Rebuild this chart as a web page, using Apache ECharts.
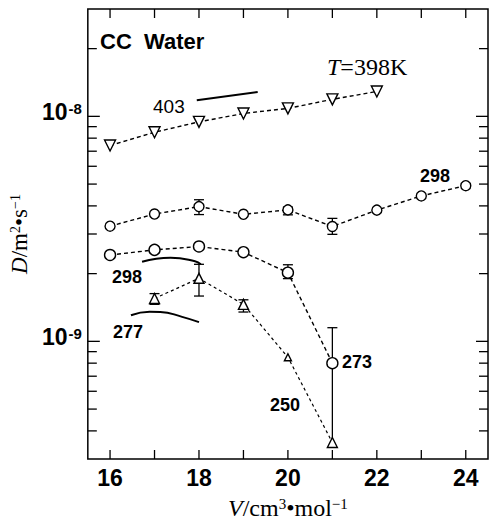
<!DOCTYPE html>
<html><head><meta charset="utf-8">
<script src="https://cdn.jsdelivr.net/npm/echarts@6/dist/echarts.min.js"></script>
<style>html,body{margin:0;padding:0;background:#fff}#c{width:491px;height:525px}</style>
</head><body><div id="c"></div>
<script>
// ---- data ----
const xTickValues = [16,17,18,19,20,21,22,23,24];
const yTickValues = [4e-10,5e-10,6e-10,7e-10,8e-10,9e-10,1e-9,2e-9,3e-9,4e-9,5e-9,6e-9,7e-9,8e-9,9e-9,1e-8,2e-8];
const yMajorTicks = [1e-9, 1e-8];

const x398 = [16,17,18,19,20,21,22];
const d398 = [7.42e-9, 8.5e-9, 9.45e-9, 1.03e-8, 1.085e-8, 1.19e-8, 1.29e-8];

const x298 = [16,17,18,19,20,21,22,23,24];
const d298 = [3.25e-9, 3.68e-9, 3.97e-9, 3.67e-9, 3.84e-9, 3.24e-9, 3.83e-9, 4.43e-9, 4.92e-9];

const x273 = [16,17,18,19,20,21];
const d273 = [2.42e-9, 2.55e-9, 2.64e-9, 2.49e-9, 2.02e-9, 8.0e-10];

const x250 = [17,18,19,20,21];
const d250 = [1.55e-9, 1.906e-9, 1.46e-9, 8.5e-10, 3.55e-10];

// error bars: [x, low, high, lowerCap(1/0)]
const err298 = [[18, 3.66e-9, 4.26e-9, 1], [20, 3.65e-9, 3.95e-9, 1], [21, 2.99e-9, 3.52e-9, 1]];
const err273 = [[20, 1.90e-9, 2.19e-9, 1], [21, 3.55e-10, 1.15e-9, 0]];
const err250 = [[17, 1.46e-9, 1.63e-9, 1], [18, 1.59e-9, 2.2e-9, 1], [19, 1.35e-9, 1.53e-9, 1]];

// solid reference curves
const x403c = [17.95, 19.32];
const d403c = [1.18e-8, 1.284e-8];
const x298c = [16.72, 17.36, 17.91, 18.04];
const d298c = [2.26e-9, 2.35e-9, 2.27e-9, 2.20e-9];
const x277c = [16.47, 16.89, 17.13, 17.62, 18.0];
const d277c = [1.307e-9, 1.355e-9, 1.352e-9, 1.285e-9, 1.217e-9];

// ---- chart ----
const pairs = (xs, ys) => xs.map((x, i) => [x, ys[i]]);
const SANS = '"Liberation Sans", Arial, sans-serif';
const SERIF = '"Liberation Serif", "DejaVu Serif", serif';
const isPow10 = v => Math.abs(Math.log10(v) - Math.round(Math.log10(v))) < 1e-6;

const chart = echarts.init(document.getElementById('c'), null, {renderer: 'svg'});

const dashed = {color: '#000', width: 1.4, type: [4, 3]};
const markerStyle = {color: '#fff', borderColor: '#000', borderWidth: 1.4};

function errRender(params, api) {
  const x = api.value(0);
  const p0 = api.coord([x, api.value(1)]);
  const p1 = api.coord([x, api.value(2)]);
  const cap = api.value(3);
  const w = 5;
  const st = {stroke: '#000', lineWidth: 1.3};
  const ch = [
    {type: 'line', shape: {x1: p0[0], y1: p0[1], x2: p1[0], y2: p1[1]}, style: st},
    {type: 'line', shape: {x1: p1[0] - w, y1: p1[1], x2: p1[0] + w, y2: p1[1]}, style: st}
  ];
  if (cap) ch.push({type: 'line', shape: {x1: p0[0] - w, y1: p0[1], x2: p0[0] + w, y2: p0[1]}, style: st});
  return {type: 'group', children: ch};
}

const option = {
  animation: false,
  backgroundColor: '#fff',
  grid: {left: 83, right: 2, top: 9, bottom: 64, show: true, borderColor: '#000', borderWidth: 1.5, backgroundColor: 'transparent'},
  xAxis: {
    type: 'value', min: 15.5, max: 24.5, interval: 0.5,
    axisLine: {show: false}, axisTick: {show: false}, splitLine: {show: false},
    axisLabel: {
      margin: 7, color: '#000', fontFamily: SANS, fontWeight: 'bold', fontSize: 23,
      formatter: v => (Math.abs(v - Math.round(v)) < 1e-9 && Math.round(v) % 2 === 0) ? String(Math.round(v)) : ''
    },
    name: '{i|V}{n|/cm}{s|3}{n|•mol}{s|−1}', nameLocation: 'middle', nameGap: 37,
    nameTextStyle: {
      rich: {
        i: {fontFamily: SERIF, fontStyle: 'italic', fontSize: 24, color: '#000', lineHeight: 24, verticalAlign: 'bottom'},
        n: {fontFamily: SERIF, fontSize: 24, color: '#000', lineHeight: 24, verticalAlign: 'bottom'},
        s: {fontFamily: SERIF, fontSize: 15, color: '#000', lineHeight: 15, verticalAlign: 'top'}
      }
    }
  },
  yAxis: {
    type: 'log', logBase: 10, min: 3e-10, max: 3e-8,
    axisLine: {show: false}, axisTick: {show: false}, splitLine: {show: false}, minorTick: {show: false},
    axisLabel: {
      margin: 6, padding: [0, 0, 8, 0],
      formatter: v => isPow10(v) ? '{a|10}{b|' + Math.round(Math.log10(v)) + '}' : '',
      rich: {
        a: {fontFamily: SANS, fontWeight: 'bold', fontSize: 23, color: '#000', lineHeight: 23, verticalAlign: 'bottom'},
        b: {fontFamily: SANS, fontWeight: 'bold', fontSize: 15, color: '#000', lineHeight: 15, verticalAlign: 'top', padding: [0, 0, 13, 1]}
      }
    },
    name: '{i|D}{n|/m}{s|2}{n|•s}{s|−1}', nameLocation: 'middle', nameGap: 56, nameRotate: 90,
    nameTextStyle: {
      rich: {
        i: {fontFamily: SERIF, fontStyle: 'italic', fontSize: 23, color: '#000', lineHeight: 23, verticalAlign: 'bottom'},
        n: {fontFamily: SERIF, fontSize: 23, color: '#000', lineHeight: 23, verticalAlign: 'bottom'},
        s: {fontFamily: SERIF, fontSize: 14, color: '#000', lineHeight: 14, verticalAlign: 'top'}
      }
    }
  },
  series: [
    // axis ticks (inward, on all four sides)
    {
      type: 'custom', silent: true, z: 1,
      data: yTickValues.map(v => [16, v]),
      renderItem: (params, api) => {
        const v = api.value(1);
        const y = api.coord([16, v])[1];
        const cs = params.coordSys;
        const len = yMajorTicks.some(m => Math.abs(m - v) / m < 1e-6) ? 12 : 9;
        const st = {stroke: '#000', lineWidth: 1.3};
        return {type: 'group', children: [
          {type: 'line', shape: {x1: cs.x, y1: y, x2: cs.x + len, y2: y}, style: st},
          {type: 'line', shape: {x1: cs.x + cs.width - len, y1: y, x2: cs.x + cs.width, y2: y}, style: st}
        ]};
      }
    },
    {
      type: 'custom', silent: true, z: 1,
      data: xTickValues.map(v => [v, 1e-9]),
      renderItem: (params, api) => {
        const x = api.coord([api.value(0), 1e-9])[0];
        const cs = params.coordSys;
        const len = 9;
        const st = {stroke: '#000', lineWidth: 1.3};
        return {type: 'group', children: [
          {type: 'line', shape: {x1: x, y1: cs.y + cs.height, x2: x, y2: cs.y + cs.height - len}, style: st},
          {type: 'line', shape: {x1: x, y1: cs.y, x2: x, y2: cs.y + len}, style: st}
        ]};
      }
    },
    // error bars
    {type: 'custom', z: 2, renderItem: errRender, encode: {x: 0, y: [1, 2]}, data: err298},
    {type: 'custom', z: 2, renderItem: errRender, encode: {x: 0, y: [1, 2]}, data: err273},
    {type: 'custom', z: 2, renderItem: errRender, encode: {x: 0, y: [1, 2]}, data: err250},
    // solid reference curves
    {type: 'line', z: 3, data: pairs(x403c, d403c), symbol: 'none', lineStyle: {color: '#000', width: 2}},
    {type: 'line', z: 3, smooth: true, data: pairs(x298c, d298c), symbol: 'none', lineStyle: {color: '#000', width: 2}},
    {type: 'line', z: 3, smooth: true, data: pairs(x277c, d277c), symbol: 'none', lineStyle: {color: '#000', width: 2}},
    // measured series
    {type: 'line', z: 4, data: pairs(x398, d398), symbol: 'triangle', symbolRotate: 180, symbolSize: 11,
     lineStyle: dashed, itemStyle: markerStyle},
    {type: 'line', z: 4, data: pairs(x298, d298), symbol: 'circle', symbolSize: 10,
     lineStyle: dashed, itemStyle: markerStyle},
    {type: 'line', z: 4, data: pairs(x273, d273), symbol: 'circle', symbolSize: 11,
     lineStyle: dashed, itemStyle: markerStyle},
    {type: 'line', z: 4, data: pairs(x250, d250), symbol: 'triangle',
     symbolSize: (val) => val[0] === 20 ? 7 : 10,
     lineStyle: {color: '#000', width: 1.2, type: [3, 3]}, itemStyle: markerStyle}
  ],
  graphic: [
    {type: 'text', x: 100, y: 41, style: {text: 'CC  Water', font: 'bold 22px ' + SANS, fill: '#000', textVerticalAlign: 'middle'}},
    {type: 'text', x: 327, y: 67, style: {
      text: '{i|T}{n|=398K}', textVerticalAlign: 'middle',
      rich: {
        i: {fontFamily: SERIF, fontStyle: 'italic', fontSize: 24, fill: '#000'},
        n: {fontFamily: SERIF, fontSize: 24, fill: '#000'}
      }}},
    {type: 'text', x: 153, y: 106, style: {text: '403', font: '19px ' + SANS, fill: '#000', textVerticalAlign: 'middle'}},
    {type: 'text', x: 420, y: 176, style: {text: '298', font: 'bold 18px ' + SANS, fill: '#000', textVerticalAlign: 'middle'}},
    {type: 'text', x: 112, y: 277, style: {text: '298', font: 'bold 18px ' + SANS, fill: '#000', textVerticalAlign: 'middle'}},
    {type: 'text', x: 113, y: 332, style: {text: '277', font: 'bold 18px ' + SANS, fill: '#000', textVerticalAlign: 'middle'}},
    {type: 'text', x: 342, y: 362, style: {text: '273', font: 'bold 18px ' + SANS, fill: '#000', textVerticalAlign: 'middle'}},
    {type: 'text', x: 270, y: 405, style: {text: '250', font: 'bold 18px ' + SANS, fill: '#000', textVerticalAlign: 'middle'}}
  ]
};
chart.setOption(option);
</script>
</body></html>
